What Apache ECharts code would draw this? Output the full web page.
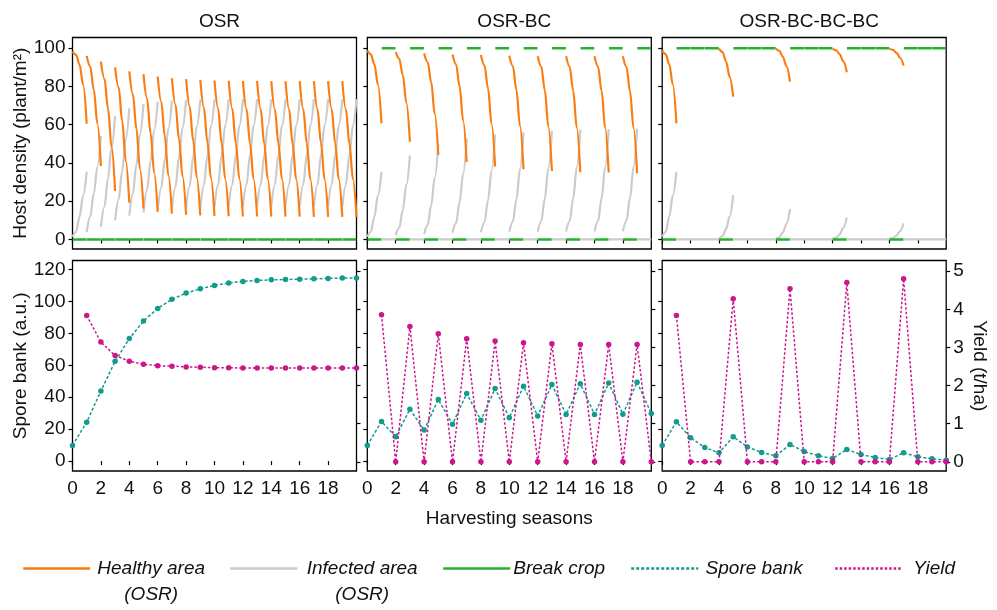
<!DOCTYPE html>
<html>
<head>
<meta charset="utf-8">
<title>Host density, spore bank and yield under three rotations</title>
<script src="https://cdn.jsdelivr.net/npm/echarts@6/dist/echarts.min.js"></script>
<style>
  html, body { margin: 0; padding: 0; background: #fff; }
  #chart { width: 997px; height: 610px; }
</style>
</head>
<body>
<div id="chart"></div>
<script>
// rotations (one column each)
const rotations = ["OSR", "OSR-BC", "OSR-BC-BC-BC"];

// harvesting seasons and tick labels
const seasons = [0, 1, 2, 3, 4, 5, 6, 7, 8, 9, 10, 11, 12, 13, 14, 15, 16, 17, 18, 19, 20];
const seasonTicks = [0, 2, 4, 6, 8, 10, 12, 14, 16, 18];
const hostTicks = [0, 20, 40, 60, 80, 100];
const sporeTicks = [0, 20, 40, 60, 80, 100, 120];
const yieldTicks = [0, 1, 2, 3, 4, 5];

// time points inside one season where the densities were read
const withinSeason = [0, 0.25, 0.5, 0.75, 1];
const Z = [0, 0, 0, 0, 0];

// ---- host density (plant/m2), one row per season ----
const osrHealthy = [
  [98.2, 96.5, 91.3, 80.8, 60.5],
  [96.0, 90.4, 78.2, 60.7, 38.4],
  [93.0, 84.0, 68.5, 48.5, 25.3],
  [90.0, 79.5, 62.0, 41.0, 19.2],
  [87.9, 76.0, 58.0, 37.0, 16.2],
  [86.4, 73.5, 55.5, 35.0, 14.4],
  [85.2, 72.0, 54.0, 33.5, 13.5],
  [84.3, 70.5, 52.5, 33.0, 12.9],
  [83.8, 69.5, 51.5, 32.5, 12.5],
  [83.4, 69.0, 51.0, 32.0, 12.3],
  [83.1, 68.5, 50.5, 31.8, 12.1],
  [83.0, 68.4, 50.4, 31.7, 12.0],
  [82.9, 68.3, 50.3, 31.6, 12.0],
  [82.9, 68.3, 50.3, 31.6, 11.9],
  [82.8, 68.2, 50.2, 31.5, 11.9],
  [82.8, 68.2, 50.2, 31.5, 11.9],
  [82.8, 68.2, 50.2, 31.5, 11.8],
  [82.8, 68.2, 50.2, 31.5, 11.8],
  [82.8, 68.2, 50.2, 31.5, 11.8],
  [82.8, 68.2, 50.2, 31.5, 11.7]
];
const osrInfected = [
  [1.4, 4.0, 12.0, 23.0, 35.4],
  [4.0, 12.0, 24.0, 38.0, 54.1],
  [6.6, 17.0, 32.0, 48.0, 64.6],
  [10.0, 21.0, 36.0, 52.5, 68.6],
  [12.5, 24.0, 39.0, 55.0, 70.9],
  [14.2, 26.0, 41.0, 57.0, 72.1],
  [15.3, 27.0, 42.0, 58.0, 72.6],
  [16.0, 27.5, 43.0, 58.5, 73.0],
  [16.5, 28.0, 43.5, 59.0, 73.2],
  [16.8, 28.3, 43.8, 59.3, 73.3],
  [17.0, 28.5, 44.0, 59.5, 73.4],
  [17.0, 28.5, 44.0, 59.5, 73.4],
  [17.1, 28.5, 44.0, 59.5, 73.4],
  [17.1, 28.5, 44.0, 59.5, 73.4],
  [17.1, 28.6, 44.1, 59.6, 73.4],
  [17.1, 28.6, 44.1, 59.6, 73.4],
  [17.1, 28.6, 44.1, 59.6, 73.4],
  [17.1, 28.6, 44.1, 59.6, 73.4],
  [17.1, 28.6, 44.1, 59.6, 73.4],
  [17.1, 28.6, 44.1, 59.6, 73.4]
];
const osrBreak = [0, 0, 0, 0, 0, 0, 0, 0, 0, 0, 0, 0, 0, 0, 0, 0, 0, 0, 0, 0];

const bcHealthy = [
  [98.7, 96.8, 91.5, 81.0, 60.7], null,
  [97.9, 94.5, 86.0, 71.5, 51.1], null,
  [97.3, 92.8, 82.3, 65.5, 44.2], null,
  [96.7, 91.6, 80.0, 62.0, 40.4], null,
  [96.4, 91.0, 79.0, 60.5, 38.1], null,
  [96.0, 90.6, 78.3, 59.5, 36.7], null,
  [95.8, 90.4, 78.0, 59.0, 35.8], null,
  [95.8, 90.3, 77.8, 58.5, 35.1], null,
  [95.8, 90.3, 77.7, 58.4, 35.0], null,
  [95.8, 90.2, 77.5, 58.2, 34.6], null
];
const bcInfected = [
  [1.4, 4.0, 12.0, 23.0, 35.4], Z,
  [2.3, 6.0, 15.5, 28.5, 43.8], Z,
  [2.8, 7.5, 18.0, 32.5, 49.7], Z,
  [3.5, 8.5, 19.5, 34.5, 52.8], Z,
  [3.8, 9.0, 20.5, 36.0, 54.9], Z,
  [4.0, 9.3, 21.0, 36.8, 56.0], Z,
  [4.2, 9.5, 21.3, 37.3, 56.7], Z,
  [4.2, 9.6, 21.5, 37.7, 57.4], Z,
  [4.2, 9.6, 21.6, 37.8, 57.6], Z,
  [4.3, 9.7, 21.7, 38.0, 57.8], Z
];
const bcBreak = [0, 100, 0, 100, 0, 100, 0, 100, 0, 100, 0, 100, 0, 100, 0, 100, 0, 100, 0, 100];

const bc3Healthy = [
  [98.7, 96.8, 91.5, 81.0, 60.7], null, null, null,
  [99.8, 98.0, 93.0, 85.0, 74.7], null, null, null,
  [99.8, 98.6, 95.5, 90.5, 82.5], null, null, null,
  [99.8, 98.9, 96.8, 93.2, 87.4], null, null, null,
  [99.8, 99.1, 97.6, 95.0, 90.9], null, null, null
];
const bc3Infected = [
  [1.4, 4.0, 12.0, 23.0, 35.4], Z, Z, Z,
  [0.3, 1.8, 5.5, 12.0, 23.2], Z, Z, Z,
  [0.2, 1.2, 3.7, 8.2, 15.9], Z, Z, Z,
  [0.2, 0.9, 2.7, 6.0, 11.5], Z, Z, Z,
  [0.2, 0.7, 2.0, 4.4, 8.4], Z, Z, Z
];
const bc3Break = [0, 100, 100, 100, 0, 100, 100, 100, 0, 100, 100, 100, 0, 100, 100, 100, 0, 100, 100, 100];

// ---- spore bank (a.u.) and yield (t/ha) at each harvesting season ----
const osrSpore = [9.8, 24.4, 43.9, 62.5, 76.7, 87.7, 95.6, 101.3, 105.2, 107.9, 110.0, 111.5, 112.5, 113.1, 113.5, 113.7, 113.9, 114.1, 114.4, 114.6, 114.6];
const osrYield = [null, 3.84, 3.14, 2.79, 2.64, 2.56, 2.52, 2.51, 2.49, 2.48, 2.47, 2.47, 2.46, 2.46, 2.46, 2.46, 2.46, 2.46, 2.46, 2.46, 2.46];
const bcSpore = [9.8, 24.8, 15.2, 32.5, 19.4, 38.5, 23.1, 42.3, 25.6, 45.4, 27.1, 46.9, 28.3, 47.9, 29.2, 48.5, 29.2, 48.9, 29.4, 49.4, 29.8];
const bcYield = [null, 3.86, 0, 3.55, 0, 3.36, 0, 3.23, 0, 3.17, 0, 3.12, 0, 3.10, 0, 3.08, 0, 3.08, 0, 3.08, 0];
const bc3Spore = [9.8, 24.6, 14.6, 8.5, 5.2, 15.2, 8.9, 5.4, 3.3, 10.4, 6.0, 3.3, 1.7, 7.3, 4.1, 2.3, 1.0, 5.2, 2.7, 1.5, 0.6];
const bc3Yield = [null, 3.84, 0, 0, 0, 4.28, 0, 0, 0, 4.54, 0, 0, 0, 4.70, 0, 0, 0, 4.80, 0, 0, 0];

const legendText = {
  "Healthy area (OSR)": ["Healthy area", "(OSR)"],
  "Infected area (OSR)": ["Infected area", "(OSR)"],
  "Break crop": ["Break crop"],
  "Spore bank": ["Spore bank"],
  "Yield": ["Yield"]
};

const font = "'Liberation Sans', Arial, Helvetica, sans-serif";
const ink = "#111";
const colors = {
  healthy: "#fb7d12",
  infected: "#cbcbcb",
  breakCrop: "#25b32c",
  spore: "#139b8d",
  yield: "#cc168c"
};

// each season is drawn as its own piece of line
function curveData(rows) {
  const out = [];
  rows.forEach(function (row, s) {
    if (!row) return;
    row.forEach(function (v, k) { out.push([s + withinSeason[k], v]); });
    out.push([s + 1, "-"]);
  });
  return out;
}
function breakData(levels) {
  const out = [];
  levels.forEach(function (v, s) {
    out.push([s + 0.015, v], [s + 0.985, v], [s + 1, "-"]);
  });
  return out;
}
function seasonData(values) {
  const out = [];
  values.forEach(function (v, i) { if (v != null) out.push([seasons[i], v]); });
  return out;
}

const lefts = [72.5, 367.3, 662.2];
const grids = [];
lefts.forEach(function (l) { grids.push({ left: l, top: 37.5, width: 284, height: 211.5 }); });
lefts.forEach(function (l) { grids.push({ left: l, top: 260.5, width: 284, height: 210.5 }); });
grids.forEach(function (g) {
  g.show = true; g.borderColor = "#000"; g.borderWidth = 1.3; g.backgroundColor = "transparent";
});

const tickStyle = { show: true, length: 4, lineStyle: { color: "#000", width: 1.2 } };
const labelBase = { color: ink, fontSize: 19, fontFamily: font };

const xAxes = grids.map(function (g, i) {
  const bottomRow = i >= 3;
  return {
    type: "value", gridIndex: i, min: 0, max: 20,
    axisLine: { show: false },
    splitLine: { show: false },
    axisTick: Object.assign({ customValues: seasonTicks }, tickStyle),
    axisLabel: Object.assign({ show: bottomRow, margin: 8, customValues: seasonTicks }, labelBase),
    name: i === 4 ? "Harvesting seasons" : "",
    nameLocation: "middle", nameGap: 38,
    nameTextStyle: { color: ink, fontSize: 19, fontFamily: font }
  };
});

const yAxes = [];
[0, 1, 2].forEach(function (i) {
  yAxes.push({
    type: "value", gridIndex: i, min: -5, max: 105.6,
    axisLine: { show: false }, splitLine: { show: false },
    axisTick: Object.assign({ customValues: hostTicks }, tickStyle),
    axisLabel: Object.assign({ show: i === 0, margin: 7, customValues: hostTicks }, labelBase),
    name: i === 0 ? "Host density (plant/m²)" : "",
    nameLocation: "middle", nameGap: 40,
    nameTextStyle: { color: ink, fontSize: 19, fontFamily: font }
  });
});
[3, 4, 5].forEach(function (i) {
  yAxes.push({
    type: "value", gridIndex: i, min: -6.2, max: 125.6,
    axisLine: { show: false }, splitLine: { show: false },
    axisTick: Object.assign({ customValues: sporeTicks }, tickStyle),
    axisLabel: Object.assign({ show: i === 3, margin: 7, customValues: sporeTicks }, labelBase),
    name: i === 3 ? "Spore bank (a.u.)" : "",
    nameLocation: "middle", nameGap: 40,
    nameTextStyle: { color: ink, fontSize: 19, fontFamily: font }
  });
});
[3, 4, 5].forEach(function (i) {
  yAxes.push({
    type: "value", gridIndex: i, position: "right", min: -0.24, max: 5.28,
    axisLine: { show: false }, splitLine: { show: false },
    axisTick: Object.assign({ customValues: yieldTicks }, tickStyle),
    axisLabel: Object.assign({ show: i === 5, margin: 7, customValues: yieldTicks }, labelBase),
    name: i === 5 ? "Yield (t/ha)" : "",
    nameLocation: "middle", nameGap: 24, nameRotate: -90,
    nameTextStyle: { color: ink, fontSize: 19, fontFamily: font }
  });
});

const hostSets = [
  [osrHealthy, osrInfected, osrBreak],
  [bcHealthy, bcInfected, bcBreak],
  [bc3Healthy, bc3Infected, bc3Break]
];
const bottomSets = [[osrSpore, osrYield], [bcSpore, bcYield], [bc3Spore, bc3Yield]];

const series = [];
hostSets.forEach(function (set, i) {
  series.push({
    name: "Infected area (OSR)", type: "line", xAxisIndex: i, yAxisIndex: i,
    data: curveData(set[1]), symbol: "none", smooth: 0.35, smoothMonotone: "x",
    lineStyle: { color: colors.infected, width: 2.2 }, itemStyle: { color: colors.infected }, z: 2
  });
  series.push({
    name: "Healthy area (OSR)", type: "line", xAxisIndex: i, yAxisIndex: i,
    data: curveData(set[0]), symbol: "none", smooth: 0.35, smoothMonotone: "x",
    lineStyle: { color: colors.healthy, width: 2.2 }, itemStyle: { color: colors.healthy }, z: 3
  });
  series.push({
    name: "Break crop", type: "line", xAxisIndex: i, yAxisIndex: i,
    data: breakData(set[2]), symbol: "none",
    lineStyle: { color: colors.breakCrop, width: 2.6 }, itemStyle: { color: colors.breakCrop }, z: 4
  });
});
bottomSets.forEach(function (set, i) {
  series.push({
    name: "Spore bank", type: "line", xAxisIndex: 3 + i, yAxisIndex: 3 + i,
    data: seasonData(set[0]), symbol: "circle", symbolSize: 5.5,
    lineStyle: { color: colors.spore, width: 1.5, type: [3, 2] }, itemStyle: { color: colors.spore }, z: 2
  });
  series.push({
    name: "Yield", type: "line", xAxisIndex: 3 + i, yAxisIndex: 6 + i,
    data: seasonData(set[1]), symbol: "circle", symbolSize: 5.5,
    lineStyle: { color: colors.yield, width: 1.5, type: [2.5, 2] }, itemStyle: { color: colors.yield }, z: 3
  });
});

function legendItem(name, left, boxWidth) {
  const lines = legendText[name];
  const two = lines.length > 1;
  return {
    data: [name], left: left, top: 559, padding: 0, selectedMode: false,
    itemWidth: 67, itemHeight: 14, itemStyle: { opacity: 0 },
    lineStyle: { width: 2.4 },
    formatter: function (n) { return legendText[n].map(function (t) { return "{t|" + t + "}"; }).join("\n"); },
    textStyle: {
      padding: two ? [26, 0, 0, 0] : 0,
      rich: { t: { width: boxWidth, align: "center", lineHeight: 26, fontSize: 19, fontStyle: "italic", fontFamily: font, color: ink } }
    }
  };
}

const option = {
  animation: false,
  backgroundColor: "#fff",
  title: rotations.map(function (t, i) {
    return {
      text: t, left: lefts[i] + 142, top: 7, textAlign: "center",
      textStyle: { color: ink, fontSize: 19, fontWeight: "normal", fontFamily: font }
    };
  }),
  legend: [
    legendItem("Healthy area (OSR)", 22, 112),
    legendItem("Infected area (OSR)", 229, 120),
    legendItem("Break crop", 442, 88),
    legendItem("Spore bank", 630, 102),
    legendItem("Yield", 834, 54)
  ],
  grid: grids,
  xAxis: xAxes,
  yAxis: yAxes,
  series: series
};

const chart = echarts.init(document.getElementById("chart"), null, { renderer: "canvas" });
chart.setOption(option);
</script>
</body>
</html>
